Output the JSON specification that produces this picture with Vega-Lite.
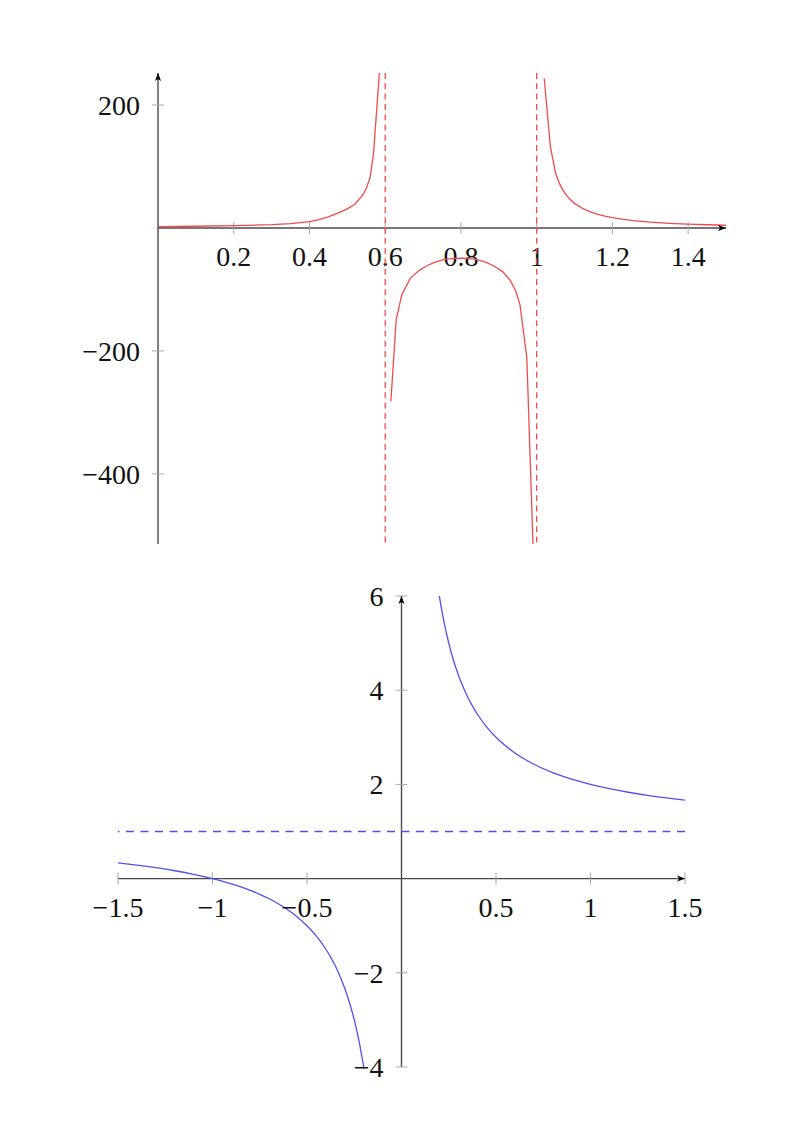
{
  "$schema": "https://vega.github.io/schema/vega-lite/v6.json",
  "padding": {"left": 82, "top": 72, "right": 5, "bottom": 5},
  "bounds": "flush",
  "spacing": 52,
  "config": {
    "view": {"stroke": null},
    "text": {"font": "Liberation Serif", "fontSize": 28, "color": "#111"}
  },
  "datasets": {
    "topAxes": [
      {"x": 0, "y": 0, "x2": 1.5, "y2": 0},
      {"x": 0, "y": -514, "x2": 0, "y2": 252}
    ],
    "topTicksX": [
      {"t": 0.2, "lab": "0.2"}, {"t": 0.4, "lab": "0.4"}, {"t": 0.6, "lab": "0.6"}, {"t": 0.8, "lab": "0.8"},
      {"t": 1, "lab": "1"}, {"t": 1.2, "lab": "1.2"}, {"t": 1.4, "lab": "1.4"}
    ],
    "topTicksY": [{"t": -400, "lab": "−400"}, {"t": -200, "lab": "−200"}, {"t": 200, "lab": "200"}],
    "topAsym": [{"a": 0.6}, {"a": 1}],
    "topArrows": [{"x": 1.5, "y": 0, "d": "r"}, {"x": 0, "y": 252, "d": "u"}],
    "topCurve": [
      {"x": 0, "y": 2.3, "b": "A"}, {"x": 0.1, "y": 2.8, "b": "A"}, {"x": 0.2, "y": 3.7, "b": "A"},
      {"x": 0.3, "y": 5.3, "b": "A"}, {"x": 0.35, "y": 7.0, "b": "A"}, {"x": 0.4, "y": 10.2, "b": "A"},
      {"x": 0.425, "y": 13.5, "b": "A"}, {"x": 0.45, "y": 18.0, "b": "A"}, {"x": 0.475, "y": 24.0, "b": "A"},
      {"x": 0.5, "y": 31.0, "b": "A"}, {"x": 0.52, "y": 38.5, "b": "A"}, {"x": 0.54, "y": 53.0, "b": "A"},
      {"x": 0.55, "y": 64.0, "b": "A"}, {"x": 0.56, "y": 82.0, "b": "A"},
      {"x": 0.569, "y": 120.0, "b": "A"}, {"x": 0.588, "y": 282.0, "b": "A"},
      {"x": 0.615, "y": -282, "b": "B"}, {"x": 0.629, "y": -149, "b": "B"}, {"x": 0.644, "y": -108, "b": "B"},
      {"x": 0.666, "y": -82, "b": "B"}, {"x": 0.69, "y": -69, "b": "B"}, {"x": 0.71, "y": -61.5, "b": "B"},
      {"x": 0.73, "y": -56, "b": "B"}, {"x": 0.754, "y": -51.5, "b": "B"}, {"x": 0.78, "y": -49.6, "b": "B"},
      {"x": 0.8, "y": -49.2, "b": "B"}, {"x": 0.82, "y": -49.6, "b": "B"}, {"x": 0.842, "y": -51.5, "b": "B"},
      {"x": 0.865, "y": -55.5, "b": "B"}, {"x": 0.886, "y": -61.5, "b": "B"}, {"x": 0.91, "y": -71, "b": "B"},
      {"x": 0.93, "y": -85, "b": "B"}, {"x": 0.945, "y": -103, "b": "B"}, {"x": 0.956, "y": -125, "b": "B"},
      {"x": 0.974, "y": -211, "b": "B"}, {"x": 0.9976, "y": -650, "b": "B"},
      {"x": 1.02, "y": 243, "b": "C"}, {"x": 1.036, "y": 133, "b": "C"}, {"x": 1.05, "y": 88.9, "b": "C"},
      {"x": 1.06, "y": 72.5, "b": "C"}, {"x": 1.07, "y": 60.8, "b": "C"}, {"x": 1.08, "y": 52.1, "b": "C"},
      {"x": 1.09, "y": 45.4, "b": "C"}, {"x": 1.1, "y": 40.0, "b": "C"}, {"x": 1.12, "y": 32.1, "b": "C"},
      {"x": 1.14, "y": 26.5, "b": "C"}, {"x": 1.16, "y": 22.3, "b": "C"}, {"x": 1.18, "y": 19.2, "b": "C"},
      {"x": 1.2, "y": 16.7, "b": "C"}, {"x": 1.225, "y": 14.2, "b": "C"}, {"x": 1.25, "y": 12.3, "b": "C"},
      {"x": 1.275, "y": 10.8, "b": "C"}, {"x": 1.3, "y": 9.5, "b": "C"}, {"x": 1.35, "y": 7.6, "b": "C"},
      {"x": 1.4, "y": 6.2, "b": "C"}, {"x": 1.45, "y": 5.2, "b": "C"}, {"x": 1.5, "y": 4.4, "b": "C"}
    ],
    "botAxes": [
      {"x": -1.5, "y": 0, "x2": 1.5, "y2": 0},
      {"x": 0, "y": -4, "x2": 0, "y2": 6}
    ],
    "botTicksX": [
      {"t": -1.5, "lab": "−1.5"}, {"t": -1, "lab": "−1"}, {"t": -0.5, "lab": "−0.5"},
      {"t": 0.5, "lab": "0.5"}, {"t": 1, "lab": "1"}, {"t": 1.5, "lab": "1.5"}
    ],
    "botTicksY": [
      {"t": -4, "lab": "−4"}, {"t": -2, "lab": "−2"}, {"t": 2, "lab": "2"}, {"t": 4, "lab": "4"}, {"t": 6, "lab": "6"}
    ],
    "botAsym": [{"a": 1}],
    "botArrows": [{"x": 1.5, "y": 0, "d": "r"}, {"x": 0, "y": 6, "d": "u"}],
    "botCurve": [
      {"x": -1.5, "y": 0.3333, "b": "L"}, {"x": -1.4, "y": 0.2857, "b": "L"}, {"x": -1.3, "y": 0.2308, "b": "L"},
      {"x": -1.2, "y": 0.1667, "b": "L"}, {"x": -1.1, "y": 0.0909, "b": "L"}, {"x": -1.0, "y": 0, "b": "L"},
      {"x": -0.95, "y": -0.0526, "b": "L"}, {"x": -0.9, "y": -0.1111, "b": "L"}, {"x": -0.85, "y": -0.1765, "b": "L"},
      {"x": -0.8, "y": -0.25, "b": "L"}, {"x": -0.75, "y": -0.3333, "b": "L"}, {"x": -0.7, "y": -0.4286, "b": "L"},
      {"x": -0.65, "y": -0.5385, "b": "L"}, {"x": -0.6, "y": -0.6667, "b": "L"}, {"x": -0.55, "y": -0.8182, "b": "L"},
      {"x": -0.5, "y": -1, "b": "L"}, {"x": -0.45, "y": -1.2222, "b": "L"}, {"x": -0.4, "y": -1.5, "b": "L"},
      {"x": -0.375, "y": -1.6667, "b": "L"}, {"x": -0.35, "y": -1.8571, "b": "L"}, {"x": -0.325, "y": -2.0769, "b": "L"},
      {"x": -0.3, "y": -2.3333, "b": "L"}, {"x": -0.275, "y": -2.6364, "b": "L"}, {"x": -0.25, "y": -3, "b": "L"},
      {"x": -0.225, "y": -3.4444, "b": "L"}, {"x": -0.2, "y": -4, "b": "L"},
      {"x": 0.2, "y": 6, "b": "R"}, {"x": 0.225, "y": 5.4444, "b": "R"}, {"x": 0.25, "y": 5, "b": "R"},
      {"x": 0.275, "y": 4.6364, "b": "R"}, {"x": 0.3, "y": 4.3333, "b": "R"}, {"x": 0.325, "y": 4.0769, "b": "R"},
      {"x": 0.35, "y": 3.8571, "b": "R"}, {"x": 0.375, "y": 3.6667, "b": "R"}, {"x": 0.4, "y": 3.5, "b": "R"},
      {"x": 0.45, "y": 3.2222, "b": "R"}, {"x": 0.5, "y": 3, "b": "R"}, {"x": 0.55, "y": 2.8182, "b": "R"},
      {"x": 0.6, "y": 2.6667, "b": "R"}, {"x": 0.65, "y": 2.5385, "b": "R"}, {"x": 0.7, "y": 2.4286, "b": "R"},
      {"x": 0.8, "y": 2.25, "b": "R"}, {"x": 0.9, "y": 2.1111, "b": "R"}, {"x": 1.0, "y": 2, "b": "R"},
      {"x": 1.1, "y": 1.9091, "b": "R"}, {"x": 1.2, "y": 1.8333, "b": "R"}, {"x": 1.3, "y": 1.7692, "b": "R"},
      {"x": 1.4, "y": 1.7143, "b": "R"}, {"x": 1.5, "y": 1.6667, "b": "R"}
    ]
  },
  "vconcat": [
    {
      "width": 608,
      "height": 471,
      "layer": [
        {
          "data": {"name": "topAxes"},
          "mark": {"type": "rule", "color": "#4a4a4a", "strokeWidth": 1.4},
          "encoding": {
            "x": {"field": "x", "type": "quantitative", "axis": null, "scale": {"domain": [-0.1057, 1.5], "nice": false, "zero": false}},
            "y": {"field": "y", "type": "quantitative", "axis": null, "scale": {"domain": [-514, 252], "nice": false, "zero": false}},
            "x2": {"field": "x2"},
            "y2": {"field": "y2"}
          }
        },
        {
          "data": {"name": "topTicksX"},
          "mark": {"type": "tick", "orient": "vertical", "size": 12, "thickness": 1, "color": "#a8a8a8", "opacity": 1},
          "encoding": {
            "x": {"field": "t", "type": "quantitative", "axis": null, "scale": {"domain": [-0.1057, 1.5], "nice": false, "zero": false}},
            "y": {"datum": 0, "type": "quantitative", "axis": null, "scale": {"domain": [-514, 252], "nice": false, "zero": false}}
          }
        },
        {
          "data": {"name": "topTicksY"},
          "mark": {"type": "tick", "orient": "horizontal", "size": 12, "thickness": 1, "color": "#a8a8a8", "opacity": 1},
          "encoding": {
            "y": {"field": "t", "type": "quantitative", "axis": null, "scale": {"domain": [-514, 252], "nice": false, "zero": false}},
            "x": {"datum": 0, "type": "quantitative", "axis": null, "scale": {"domain": [-0.1057, 1.5], "nice": false, "zero": false}}
          }
        },
        {
          "data": {"name": "topTicksX"},
          "mark": {"type": "text", "align": "center", "baseline": "top", "dy": 16},
          "encoding": {
            "x": {"field": "t", "type": "quantitative", "axis": null, "scale": {"domain": [-0.1057, 1.5], "nice": false, "zero": false}},
            "y": {"datum": 0, "type": "quantitative", "axis": null, "scale": {"domain": [-514, 252], "nice": false, "zero": false}},
            "text": {"field": "lab"}
          }
        },
        {
          "data": {"name": "topTicksY"},
          "mark": {"type": "text", "align": "right", "baseline": "middle", "dx": -18, "dy": 2},
          "encoding": {
            "y": {"field": "t", "type": "quantitative", "axis": null, "scale": {"domain": [-514, 252], "nice": false, "zero": false}},
            "x": {"datum": 0, "type": "quantitative", "axis": null, "scale": {"domain": [-0.1057, 1.5], "nice": false, "zero": false}},
            "text": {"field": "lab"}
          }
        },
        {
          "data": {"name": "topAsym"},
          "mark": {"type": "rule", "color": "#ef4b4b", "strokeDash": [6, 4.3], "strokeWidth": 1.3},
          "encoding": {
            "x": {"field": "a", "type": "quantitative", "axis": null, "scale": {"domain": [-0.1057, 1.5], "nice": false, "zero": false}}
          }
        },
        {
          "data": {"name": "topCurve"},
          "mark": {"type": "line", "color": "#ef4b4b", "strokeWidth": 1.3, "clip": true},
          "encoding": {
            "x": {"field": "x", "type": "quantitative", "axis": null, "scale": {"domain": [-0.1057, 1.5], "nice": false, "zero": false}},
            "y": {"field": "y", "type": "quantitative", "axis": null, "scale": {"domain": [-514, 252], "nice": false, "zero": false}},
            "detail": {"field": "b"},
            "order": {"field": "x", "type": "quantitative"}
          }
        },
        {
          "data": {"name": "topArrows"},
          "mark": {"type": "point", "filled": true, "size": 256, "color": "#000", "opacity": 1},
          "encoding": {
            "x": {"field": "x", "type": "quantitative", "axis": null, "scale": {"domain": [-0.1057, 1.5], "nice": false, "zero": false}},
            "y": {"field": "y", "type": "quantitative", "axis": null, "scale": {"domain": [-514, 252], "nice": false, "zero": false}},
            "shape": {"field": "d", "type": "nominal", "legend": null,
                      "scale": {"domain": ["r", "u"], "range": ["M0,0L-1,-0.38L-0.75,0L-1,0.38Z", "M0,0L-0.38,1L0,0.75L0.38,1Z"]}}
          }
        }
      ]
    },
    {
      "width": 567,
      "height": 471,
      "layer": [
        {
          "data": {"name": "botAxes"},
          "mark": {"type": "rule", "color": "#4a4a4a", "strokeWidth": 1.4},
          "encoding": {
            "x": {"field": "x", "type": "quantitative", "axis": null, "scale": {"domain": [-1.5, 1.5], "nice": false, "zero": false}},
            "y": {"field": "y", "type": "quantitative", "axis": null, "scale": {"domain": [-4, 6], "nice": false, "zero": false}},
            "x2": {"field": "x2"},
            "y2": {"field": "y2"}
          }
        },
        {
          "data": {"name": "botTicksX"},
          "mark": {"type": "tick", "orient": "vertical", "size": 12, "thickness": 1, "color": "#a8a8a8", "opacity": 1},
          "encoding": {
            "x": {"field": "t", "type": "quantitative", "axis": null, "scale": {"domain": [-1.5, 1.5], "nice": false, "zero": false}},
            "y": {"datum": 0, "type": "quantitative", "axis": null, "scale": {"domain": [-4, 6], "nice": false, "zero": false}}
          }
        },
        {
          "data": {"name": "botTicksY"},
          "mark": {"type": "tick", "orient": "horizontal", "size": 12, "thickness": 1, "color": "#a8a8a8", "opacity": 1},
          "encoding": {
            "y": {"field": "t", "type": "quantitative", "axis": null, "scale": {"domain": [-4, 6], "nice": false, "zero": false}},
            "x": {"datum": 0, "type": "quantitative", "axis": null, "scale": {"domain": [-1.5, 1.5], "nice": false, "zero": false}}
          }
        },
        {
          "data": {"name": "botAsym"},
          "mark": {"type": "rule", "color": "#4f4ff0", "strokeDash": [8, 6.5], "strokeWidth": 1.4},
          "encoding": {
            "y": {"field": "a", "type": "quantitative", "axis": null, "scale": {"domain": [-4, 6], "nice": false, "zero": false}}
          }
        },
        {
          "data": {"name": "botCurve"},
          "mark": {"type": "line", "color": "#5050f0", "strokeWidth": 1.3, "clip": true, "interpolate": "monotone"},
          "encoding": {
            "x": {"field": "x", "type": "quantitative", "axis": null, "scale": {"domain": [-1.5, 1.5], "nice": false, "zero": false}},
            "y": {"field": "y", "type": "quantitative", "axis": null, "scale": {"domain": [-4, 6], "nice": false, "zero": false}},
            "detail": {"field": "b"},
            "order": {"field": "x", "type": "quantitative"}
          }
        },
        {
          "data": {"name": "botTicksX"},
          "mark": {"type": "text", "align": "center", "baseline": "top", "dy": 16},
          "encoding": {
            "x": {"field": "t", "type": "quantitative", "axis": null, "scale": {"domain": [-1.5, 1.5], "nice": false, "zero": false}},
            "y": {"datum": 0, "type": "quantitative", "axis": null, "scale": {"domain": [-4, 6], "nice": false, "zero": false}},
            "text": {"field": "lab"}
          }
        },
        {
          "data": {"name": "botTicksY"},
          "mark": {"type": "text", "align": "right", "baseline": "middle", "dx": -18, "dy": 2},
          "encoding": {
            "y": {"field": "t", "type": "quantitative", "axis": null, "scale": {"domain": [-4, 6], "nice": false, "zero": false}},
            "x": {"datum": 0, "type": "quantitative", "axis": null, "scale": {"domain": [-1.5, 1.5], "nice": false, "zero": false}},
            "text": {"field": "lab"}
          }
        },
        {
          "data": {"name": "botArrows"},
          "mark": {"type": "point", "filled": true, "size": 256, "color": "#000", "opacity": 1},
          "encoding": {
            "x": {"field": "x", "type": "quantitative", "axis": null, "scale": {"domain": [-1.5, 1.5], "nice": false, "zero": false}},
            "y": {"field": "y", "type": "quantitative", "axis": null, "scale": {"domain": [-4, 6], "nice": false, "zero": false}},
            "shape": {"field": "d", "type": "nominal", "legend": null,
                      "scale": {"domain": ["r", "u"], "range": ["M0,0L-1,-0.38L-0.75,0L-1,0.38Z", "M0,0L-0.38,1L0,0.75L0.38,1Z"]}}
          }
        }
      ]
    }
  ]
}
